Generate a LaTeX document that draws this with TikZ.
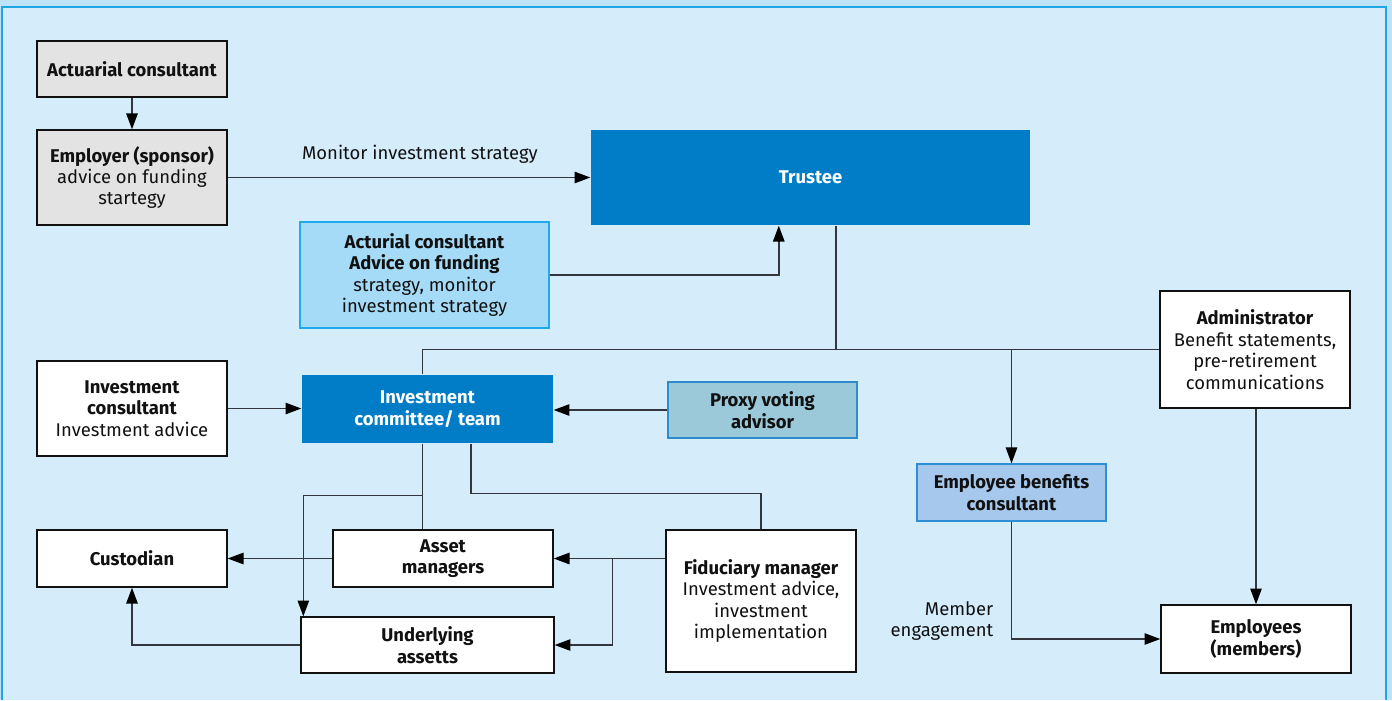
\documentclass[tikz,border=0pt]{standalone}
\usepackage{fontspec}
\setmainfont{Fira Sans}
\usepackage{tikz}
\usetikzlibrary{arrows.meta,calc}
\definecolor{bgout}{HTML}{BEE3F8}
\definecolor{bgin}{HTML}{D5ECFB}
\definecolor{frameblue}{HTML}{1FA6E4}
\definecolor{boxgray}{HTML}{E3E3E3}
\definecolor{deepblue}{HTML}{007DC6}
\definecolor{skyfill}{HTML}{A6DBF7}
\definecolor{skyline}{HTML}{1EAAEB}
\definecolor{proxyfill}{HTML}{9CC9DA}
\definecolor{proxyline}{HTML}{2F8BC9}
\definecolor{ebcfill}{HTML}{A6C8EC}
\definecolor{ebcline}{HTML}{2D8ED3}
\definecolor{ink}{HTML}{111111}
\definecolor{wire}{HTML}{33373D}
\tikzset{
         box/.style={draw=ink,line width=0.8pt,fill=white,text=ink,align=center,
                     inner sep=0pt,font=\fontsize{10.5}{12.2}\selectfont},
         graybox/.style={box,fill=boxgray},
         bluebox/.style={box,draw=none,fill=deepblue,text=white},
         skybox/.style={box,draw=skyline,fill=skyfill},
         proxybox/.style={box,draw=proxyline,fill=proxyfill},
         ebcbox/.style={box,draw=ebcline,fill=ebcfill},
         wirelabel/.style={text=ink,align=center,font=\fontsize{10.5}{12.2}\selectfont},
         link/.style={draw=wire,line width=0.8pt},
         arrow/.style={link,-{Triangle[length=9pt,width=6.5pt,color=black]}}
        }

\begin{document}
\begin{tikzpicture}[x=0.02cm,y=-0.02cm]
\useasboundingbox(0,0)rectangle(1392,700);
%frame
\fill[bgout](0,0)rectangle(1392,700);
\fill[bgin](2,7)rectangle(1386,700);
\draw[frameblue,line width=1.2pt](2,700)--(2,7)--(1386,7)--(1386,700);
%top row
\node[graybox,minimum width=3.8cm,minimum height=1.12cm] (act) at (132,69) {\textbf{Actuarial consultant}};
\node[graybox,minimum width=3.8cm,minimum height=1.9cm] (emp) at (132,177.5) {\textbf{Employer (sponsor)}\\advice on funding\\startegy};
\node[bluebox,minimum width=8.78cm,minimum height=1.9cm] (trustee) at (810.5,177.5) {\textbf{Trustee}};
\node[skybox,minimum width=4.98cm,minimum height=2.12cm] (acur) at (424.5,275) {\textbf{Acturial consultant}\\\textbf{Advice on funding}\\strategy, monitor\\investment strategy};
%middle row
\node[box,minimum width=3.8cm,minimum height=1.9cm] (invc) at (132,408.5) {\textbf{Investment}\\\textbf{consultant}\\Investment advice};
\node[bluebox,minimum width=5.02cm,minimum height=1.36cm] (comm) at (427.5,409) {\textbf{Investment}\\\textbf{committee/ team}};
\node[proxybox,minimum width=3.78cm,minimum height=1.12cm] (proxy) at (762.5,410) {\textbf{Proxy voting}\\\textbf{advisor}};
\node[box,minimum width=3.8cm,minimum height=2.34cm] (admin) at (1255,349.5) {\textbf{Administrator}\\Benefit statements,\\pre-retirement\\communications};
\node[ebcbox,minimum width=3.78cm,minimum height=1.14cm] (ebc) at (1011.5,492.5) {\textbf{Employee benefits}\\\textbf{consultant}};
%bottom row
\node[box,minimum width=3.8cm,minimum height=1.14cm] (cust) at (132,558.5) {\textbf{Custodian}};
\node[box,minimum width=4.4cm,minimum height=1.14cm] (asset) at (443,558.5) {\textbf{Asset}\\\textbf{managers}};
\node[box,minimum width=5.06cm,minimum height=1.12cm] (under) at (427.5,645) {\textbf{Underlying}\\\textbf{assetts}};
\node[box,minimum width=3.8cm,minimum height=2.84cm] (fid) at (761,601) {\textbf{Fiduciary manager}\\Investment advice,\\investment\\implementation};
\node[box,minimum width=3.8cm,minimum height=1.36cm] (empl) at (1256,639) {\textbf{Employees}\\\textbf{(members)}};
%helper points
\coordinate (ctop) at ($(comm.north)+(-5,0)$);
\coordinate (cbot) at ($(comm.south)+(-5,0)$);
\coordinate (csplit) at ($(cbot)+(0,52)$);
\coordinate (cright) at ($(comm.south west)!0.673!(comm.south east)$);
\coordinate (tin) at ($(trustee.south west)!0.428!(trustee.south east)$);
\coordinate (tout) at ($(trustee.south west)!0.558!(trustee.south east)$);
\coordinate (fsplit) at ($(asset.east)+(59,0)$);
%connectors
\draw[arrow](act)--(emp);
\draw[arrow](emp)--(trustee) node[wirelabel,pos=0.53,above=4pt]{Monitor investment strategy};
\draw[arrow](acur.east)-|(tin);
\draw[link](tout)--(tout |- admin.west);
\draw[link](ctop)|-(admin.west);
\draw[arrow](ebc.north |- admin.west)--(ebc.north);
\draw[arrow](invc.east)--(invc.east -| comm.west);
\draw[arrow](proxy.west)--(proxy.west -| comm.east);
\draw[link](cbot)--(cbot |- asset.north);
\draw[arrow](csplit)-|($(under.north west)+(3,0)$);
\draw[link](cright)|-($(fid.north)+(0,-36)$)--(fid.north);
\draw[arrow](asset.west)--(cust.east);
\draw[arrow](under.west)-|(cust.south);
\draw[arrow](fid.west |- asset.east)--(asset.east);
\draw[arrow](fsplit)|-(under.east);
\draw[arrow](admin.south -| empl.north)--(empl.north);
\draw[arrow](ebc.south)|-(empl.west);
\node[wirelabel,align=right,anchor=east] (meng) at ($(ebc.south |- empl.west)+(-12,-18)$) {Member\\engagement};
\end{tikzpicture}
\end{document}
